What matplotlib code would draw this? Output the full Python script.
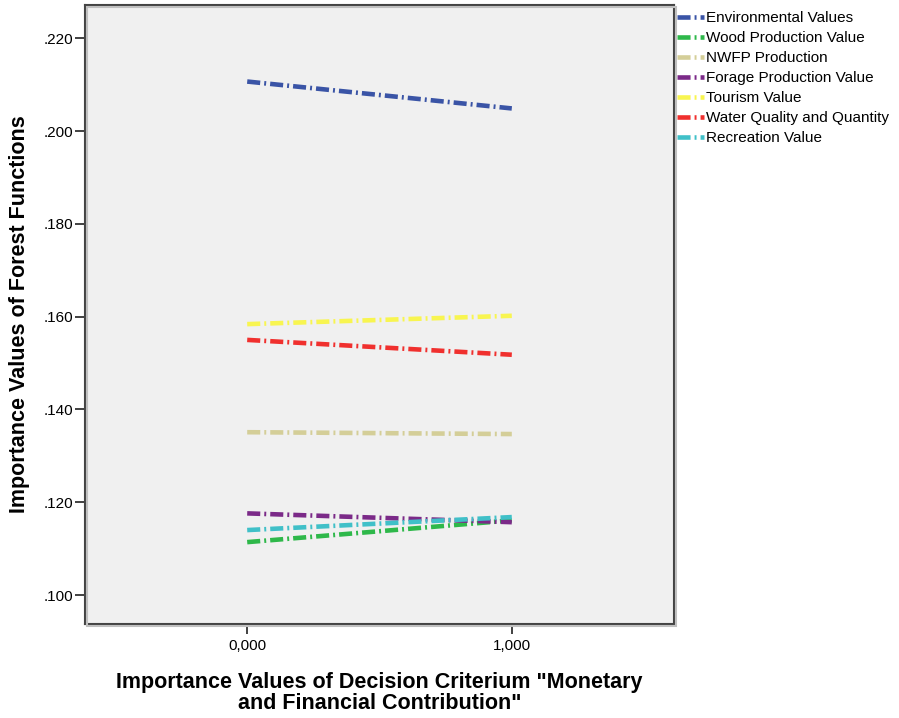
import matplotlib
matplotlib.use("Agg")
import matplotlib.pyplot as plt
from matplotlib.patches import Rectangle

plt.rcParams['font.family'] = ['Liberation Sans', 'DejaVu Sans']
plt.rcParams['lines.scale_dashes'] = False

x_values = [0.0, 1.0]
x_ticklabels = ["0,000", "1,000"]
series_names = ["Environmental Values", "Wood Production Value", "NWFP Production",
                "Forage Production Value", "Tourism Value", "Water Quality and Quantity",
                "Recreation Value"]
environmental = [0.2107, 0.2049]
wood = [0.1114, 0.1161]
nwfp = [0.1351, 0.1347]
forage = [0.1176, 0.1157]
tourism = [0.1584, 0.1602]
water = [0.1550, 0.1518]
recreation = [0.1140, 0.1168]
colors = ["#3a54a6", "#2eb84a", "#d4ce98", "#7b2a88", "#f8f550", "#f0302e", "#40c0c8"]
y_ticks = [0.100, 0.120, 0.140, 0.160, 0.180, 0.200, 0.220]

W, H = 899, 718
fig = plt.figure(figsize=(W/100, H/100), dpi=100)
fig.patch.set_facecolor("white")
L, R, T, B = 85, 674, 5, 624
# drop shadow of the plot frame
fig.patches.append(Rectangle(((L+2)/W, 1-(B+2)/H), (R-L)/W, (B-T)/H, transform=fig.transFigure,
                             facecolor="none", edgecolor="#c0c0c0", lw=1.5, zorder=0))
ax = fig.add_axes([L/W, 1 - B/H, (R-L)/W, (B-T)/H])
ax.set_facecolor("#f0f0f0")

series = [environmental, wood, nwfp, forage, tourism, water, recreation]
dash = (0, (9.4, 2.9, 1.4, 2.9))
for name, vals, c in zip(series_names, series, colors):
    ax.plot(x_values, vals, color=c, lw=3.3, linestyle=dash, label=name,
            dash_capstyle='butt', solid_capstyle='butt')

ax.set_xlim(-0.613, 1.613)
ax.set_ylim(0.09375, 0.2272)
ax.set_xticks(x_values)
ax.set_xticklabels(x_ticklabels, fontsize=11)
ax.set_yticks(y_ticks)
ax.set_yticklabels([f"{v:.3f}"[1:] for v in y_ticks], fontsize=11)
ax.tick_params(axis='x', direction='out', length=7.5, width=1.3, color="#333333", pad=3)
ax.tick_params(axis='y', direction='out', length=7.5, width=1.3, color="#333333", pad=1)
for s in ax.spines.values():
    s.set_color("#444444")
    s.set_linewidth(1.5)

ax.set_ylabel("Importance Values of Forest Functions", fontsize=15.5, fontweight='bold', labelpad=10)
ax.set_xlabel("Importance Values of Decision Criterium \"Monetary\nand Financial Contribution\"",
              fontsize=15.5, fontweight='bold', labelpad=14, linespacing=1.0)

leg = ax.legend(loc='upper left', bbox_to_anchor=(0.995, 1.0), frameon=False, fontsize=11,
                handlelength=1.75, handletextpad=0.15, labelspacing=0.39, borderaxespad=0.2,
                borderpad=0.2)
fig.savefig("out.png", dpi=100)
